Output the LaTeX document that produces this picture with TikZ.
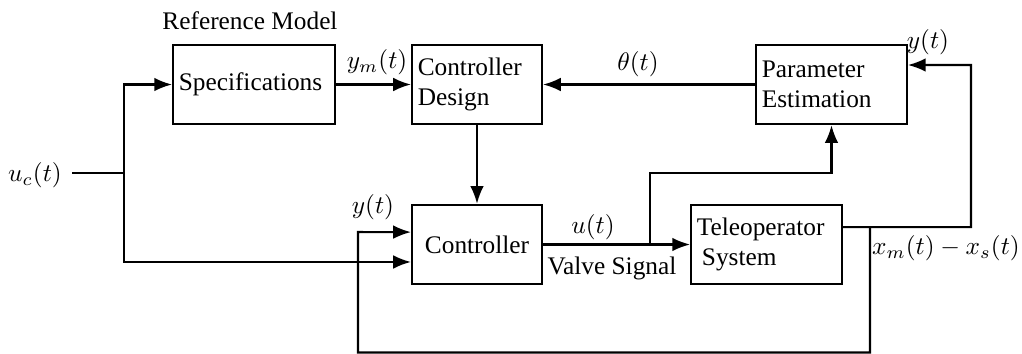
\documentclass[tikz,border=0pt]{standalone}
\usepackage{fontspec}
\setmainfont{Liberation Serif}
\usetikzlibrary{arrows.meta}
\begin{document}
\begin{tikzpicture}[x=0.395pt,y=-0.395pt,
  blk/.style={draw, line width=0.8pt, inner sep=2.3pt, align=left, minimum height=31.4pt, font=\fontsize{10}{12}\selectfont},
  conn/.style={line width=0.8pt},
  arr/.style={conn,-{Latex[length=7pt,width=5.4pt]}},
  lbl/.style={inner sep=0pt, font=\fontsize{10}{12}\selectfont}]
\useasboundingbox (0,0) rectangle (1022,354);
% blocks
\node[blk, text width=59.4pt] (spec) at (254,84.5) {Specifications};
\node[blk, text width=46.8pt] (cd) at (477,84.5) {Controller\\Design};
\node[blk, text width=55pt] (pe) at (831.5,84.5) {Parameter\\Estimation};
\node[blk, text width=46.8pt, align=center] (ctrl) at (477,244.5) {Controller};
\node[blk, text width=55pt] (tel) at (766.5,244.5) {Teleoperator\\\hspace*{2pt}System};
% labels
\node[lbl] (refm) at (250,21) {Reference Model};
\node[lbl] (lym) at (377,62) {$y_m(t)$};
\node[lbl] (lth) at (638,64) {$\theta(t)$};
\node[lbl] (lyt1) at (928,42) {$y(t)$};
\node[lbl] (luc) at (35,175) {$u_c(t)$};
\node[lbl] (lyt2) at (373,207) {$y(t)$};
\node[lbl] (lut) at (593,227) {$u(t)$};
\node[lbl] (lvs) at (612,268) {Valve Signal};
\node[lbl] (lxm) at (946,248) {$x_m(t)-x_s(t)$};
% coordinates
\coordinate (ucs) at (72,173);
\coordinate (ucj) at (124,173);
\coordinate (ctin1) at ([yshift=4.9pt]ctrl.west);
\coordinate (ctin2) at ([yshift=-6.9pt]ctrl.west);
\coordinate (telout) at ([yshift=6.9pt]tel.east);
\coordinate (peinr) at ([yshift=7.7pt]pe.east);
\coordinate (ubr) at (650,244.5);
\coordinate (ytop) at (971,65);
\coordinate (fbj) at (870,227);
% connectors
\draw[conn] (ucs) -- (ucj);
\draw[arr] (ucj) |- (spec.west);
\draw[arr] (ucj) |- (ctin2);
\draw[arr] (spec.east) -- (cd.west);
\draw[arr] (pe.west) -- (cd.east);
\draw[arr] (cd.south) -- (ctrl.north);
\draw[arr] (ctrl.east) -- (tel.west);
\draw[arr] (ubr) -- (650,173) -| (pe.south);
\draw[arr] (telout) -| (ytop) -- (peinr);
\draw[arr] (fbj) -- (870,352.5) -| (358,232) -- (ctin1);
\end{tikzpicture}
\end{document}
